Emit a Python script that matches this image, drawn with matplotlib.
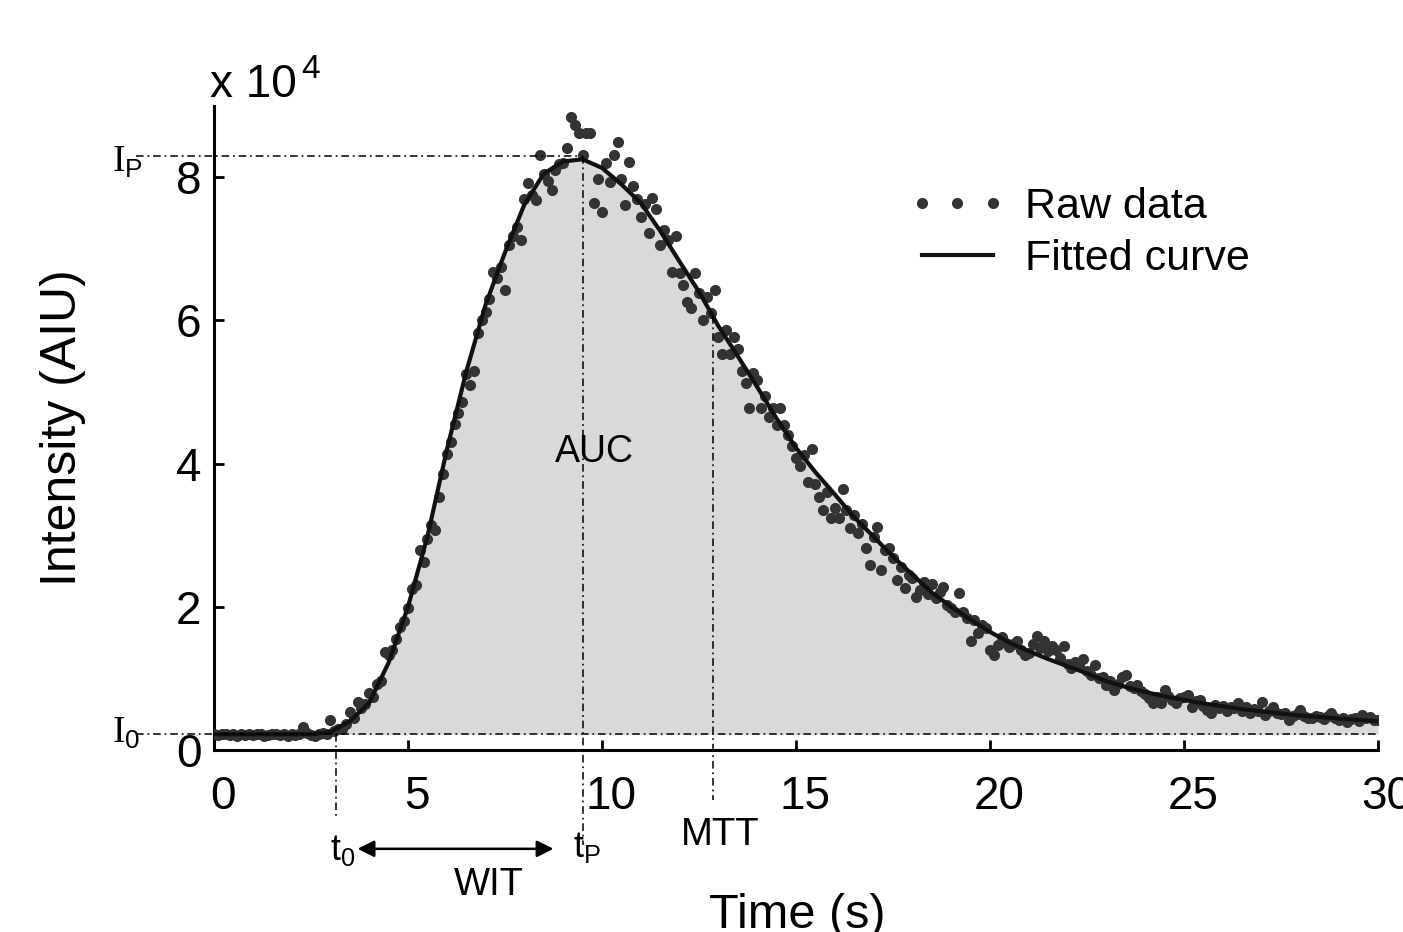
import numpy as np
import matplotlib.pyplot as plt
from matplotlib import transforms

plt.rcParams['font.family'] = ['Liberation Sans', 'DejaVu Sans']
plt.rcParams['mathtext.fontset'] = 'custom'
plt.rcParams['mathtext.rm'] = 'Liberation Serif'
plt.rcParams['mathtext.sf'] = 'Liberation Sans'

W, H = 1403, 932

# intensity values in units of 1e4
t_fit = np.arange(0, 30.01, 0.5)
fit = [0.22, 0.22, 0.22, 0.22, 0.22, 0.22,
       0.25, 0.40, 0.66, 1.22, 2.00, 2.98, 4.19, 5.28, 6.22, 6.95,
       7.62, 8.05, 8.22, 8.25, 8.13, 7.90, 7.64, 7.25, 6.82, 6.40,
       5.92, 5.50, 5.07, 4.63, 4.22, 3.88, 3.57, 3.25, 2.98, 2.70,
       2.45, 2.20, 2.00, 1.82, 1.65, 1.50, 1.38, 1.27, 1.17, 1.07,
       0.96, 0.88, 0.81, 0.75, 0.70, 0.65, 0.61, 0.57, 0.54, 0.51,
       0.48, 0.46, 0.44, 0.42, 0.40]

t_raw = np.arange(0, 30.01, 0.1)
raw = [0.22, 0.21, 0.22, 0.23, 0.21, 0.22, 0.20, 0.22, 0.21, 0.22,
       0.21, 0.23, 0.22, 0.20, 0.21, 0.22, 0.23, 0.21, 0.22, 0.20,
       0.22, 0.21, 0.23, 0.32, 0.24, 0.21, 0.19, 0.22, 0.24, 0.23,
       0.42, 0.26, 0.30, 0.29, 0.36, 0.53, 0.45, 0.67, 0.58, 0.64,
       0.80, 0.74, 0.92, 0.96, 1.37, 1.32, 1.40, 1.55, 1.72, 1.80,
       1.98, 2.25, 2.30, 2.79, 2.63, 2.95, 3.14, 3.07, 3.53, 3.86,
       4.14, 4.30, 4.56, 4.70, 4.86, 5.25, 5.10, 5.30, 5.82, 6.00,
       6.12, 6.30, 6.68, 6.59, 6.75, 6.42, 7.05, 7.18, 7.30, 7.12,
       7.70, 7.92, 7.75, 7.68, 8.31, 8.05, 7.95, 7.82, 8.10, 8.18,
       8.20, 8.41, 8.84, 8.73, 8.62, 8.31, 8.62, 8.62, 7.64, 7.97,
       7.51, 8.20, 7.93, 8.31, 8.49, 7.97, 7.61, 8.21, 7.88, 7.70,
       7.45, 7.62, 7.22, 7.71, 7.55, 7.05, 7.26, 7.12, 6.68, 7.18,
       6.66, 6.49, 6.26, 6.17, 6.66, 6.38, 6.00, 6.33, 6.10, 6.43,
       5.77, 5.53, 5.87, 5.53, 5.77, 5.60, 5.29, 5.13, 4.78, 5.27,
       5.17, 4.78, 4.95, 4.65, 4.78, 4.54, 4.78, 4.54, 4.40, 4.25,
       4.08, 3.96, 4.12, 3.74, 4.20, 3.71, 3.53, 3.35, 3.60, 3.24,
       3.38, 3.24, 3.64, 3.35, 3.10, 3.28, 3.03, 3.15, 2.82, 2.58,
       2.97, 3.12, 2.51, 2.80, 2.82, 2.68, 2.37, 2.55, 2.26, 2.45,
       2.40, 2.14, 2.23, 2.35, 2.18, 2.32, 2.12, 2.20, 2.28, 2.02,
       1.98, 1.93, 2.19, 1.93, 1.85, 1.52, 1.82, 1.63, 1.75, 1.70,
       1.40, 1.33, 1.47, 1.58, 1.50, 1.44, 1.48, 1.52, 1.40, 1.33,
       1.36, 1.48, 1.59, 1.42, 1.52, 1.38, 1.45, 1.40, 1.28, 1.45,
       1.20, 1.15, 1.23, 1.18, 1.27, 1.10, 1.05, 1.19, 1.00, 1.02,
       0.91, 0.97, 0.84, 0.92, 1.02, 1.05, 0.90, 0.86, 0.91, 0.82,
       0.78, 0.72, 0.66, 0.74, 0.66, 0.84, 0.76, 0.70, 0.66, 0.72,
       0.74, 0.77, 0.60, 0.68, 0.70, 0.62, 0.56, 0.52, 0.63, 0.58,
       0.62, 0.55, 0.60, 0.58, 0.66, 0.54, 0.60, 0.52, 0.57, 0.55,
       0.67, 0.49, 0.55, 0.60, 0.52, 0.50, 0.52, 0.42, 0.48, 0.50,
       0.56, 0.47, 0.44, 0.45, 0.48, 0.46, 0.43, 0.47, 0.52, 0.45,
       0.42, 0.44, 0.39, 0.43, 0.45, 0.40, 0.49, 0.44, 0.46, 0.42,
       0.42]

# perfusion parameters
I0 = 0.22
Ip = 8.30
t0 = 3.15
tp = 9.5
mtt = 12.85

fig = plt.figure(figsize=(W / 100, H / 100), dpi=100)
ax = fig.add_axes([214 / W, 1 - 750 / H, 1164 / W, 644.4 / H])


def fx(px):
    return px / W


def fy(py):
    return 1 - py / H


ax.fill_between(t_fit, fit, I0, color='#d9d9d9', lw=0, zorder=1)
ax.plot(t_raw, raw, 'o', ls='none', ms=8, color='#333333', mew=0,
        label='Raw data', zorder=3)
ax.plot(t_fit, fit, '-', color='#111111', lw=3, label='Fitted curve', zorder=4)

# dash-dot guide lines
dd = (0, (5, 2.5, 1.2, 2.5))
gl = dict(ls=dd, color='black', lw=1.1, clip_on=False, zorder=5)
ax.plot([-2.0, tp], [Ip, Ip], **gl)
ax.plot([-2.0, 30], [I0, I0], **gl)
ax.plot([t0, t0], [I0, -0.95], **gl)
ax.plot([tp, tp], [Ip, -1.33], **gl)
ax.plot([mtt, mtt], [np.interp(mtt, t_fit, fit), -0.70], **gl)

ax.annotate('', xy=(t0 + 0.55, -1.38), xytext=(tp - 0.75, -1.38),
            arrowprops=dict(arrowstyle='<|-|>', color='black', lw=1.8,
                            mutation_scale=25, shrinkA=0, shrinkB=0),
            annotation_clip=False)

tk = dict(clip_on=False, ha='left', va='baseline')
ax.text(-2.63, 8.07, r'$\mathrm{I}_{\mathsf{P}}$', fontsize=27, **tk)
ax.text(-2.63, 0.10, r'$\mathrm{I}_{\mathsf{0}}$', fontsize=27, **tk)
ax.text(2.99, -1.54, r'$\mathsf{t}_{\mathsf{0}}$', fontsize=26, **tk)
ax.text(9.25, -1.49, r'$\mathsf{t}_{\mathsf{P}}$', fontsize=26, **tk)
ax.text(13.04, -1.33, 'MTT', fontsize=27.5, ha='center', va='baseline', clip_on=False)
ax.text(7.09, -2.03, 'WIT', fontsize=27.5, ha='center', va='baseline', clip_on=False)
ax.text(9.8, 4.02, 'AUC', fontsize=27, ha='center', va='baseline')

ax.set_xlim(0, 30)
ax.set_ylim(0, 9.0)
ax.set_xticks([0, 5, 10, 15, 20, 25, 30])
ax.set_yticks([0, 2, 4, 6, 8])
ax.tick_params(direction='in', length=7, width=2, labelsize=33)
ax.tick_params(axis='x', pad=18)
ax.tick_params(axis='y', pad=9)
for s in ['top', 'right']:
    ax.spines[s].set_visible(False)
for s in ['left', 'bottom']:
    ax.spines[s].set_linewidth(2.2)

shift = transforms.ScaledTranslation(9 / 100, 0, fig.dpi_scale_trans)
for lab in ax.get_xticklabels():
    lab.set_transform(lab.get_transform() + shift)

fig.text(fx(210), fy(97), 'x 10', fontsize=33, ha='left', va='baseline')
fig.text(fx(301), fy(78), '4', fontsize=24, ha='left', va='baseline')
fig.text(fx(797), fy(928), 'Time (s)', fontsize=35, ha='center', va='baseline')
fig.text(fx(63), fy(428), 'Intensity (AIU)', fontsize=36, rotation=90,
         ha='center', va='center')

ax.legend(loc='upper left', bbox_to_anchor=(fx(909), fy(187)),
          bbox_transform=fig.transFigure, frameon=False, fontsize=31,
          numpoints=3, handlelength=2.25, handletextpad=0.45,
          labelspacing=0.27, borderpad=0, borderaxespad=0)

fig.savefig('out.png', dpi=100)
